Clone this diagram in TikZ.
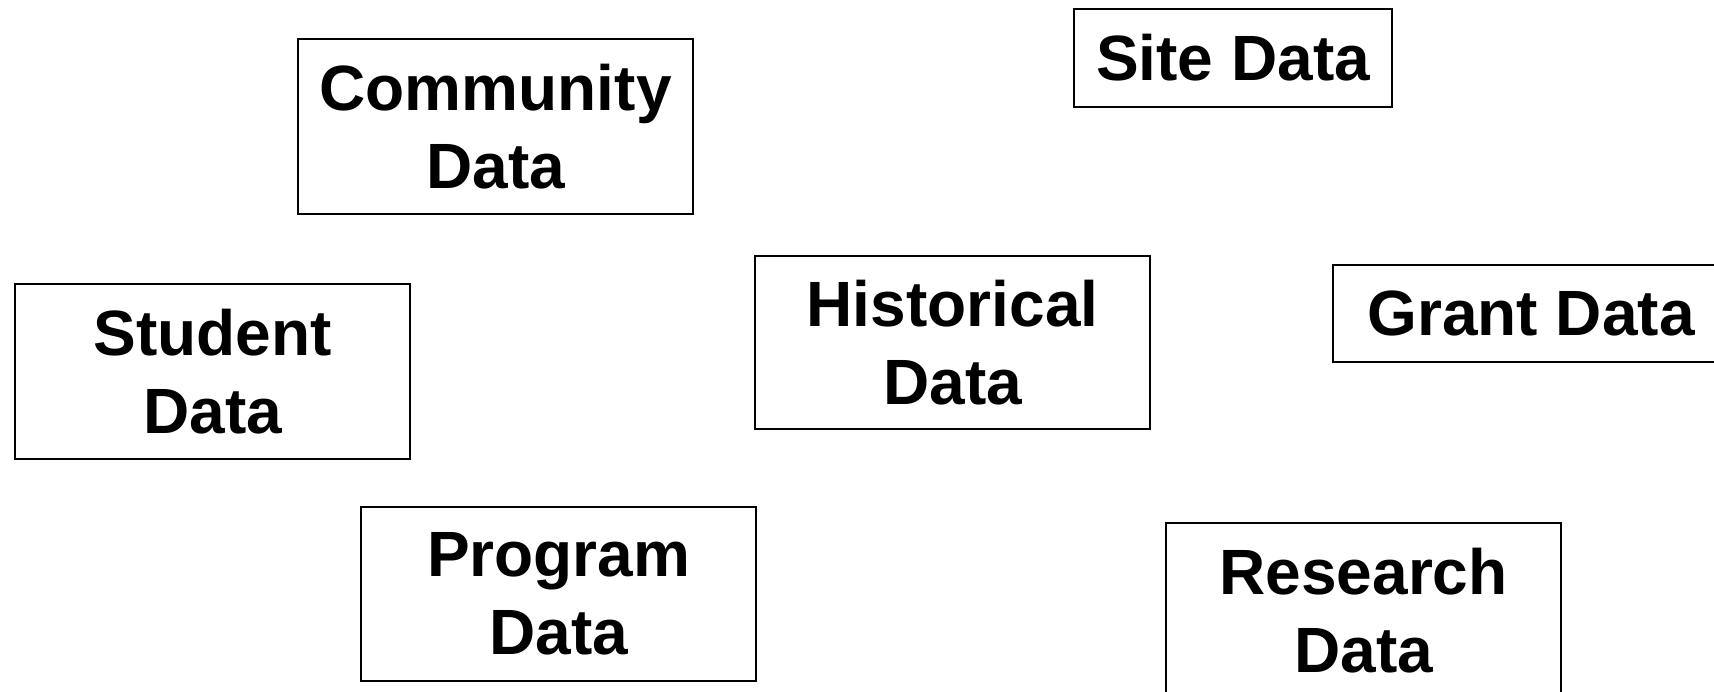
\documentclass[tikz,border=0pt]{standalone}
\usepackage{fontspec}
\setmainfont{Liberation Sans}
\usepackage{tikz}

\begin{document}
\begin{tikzpicture}[x=1pt,y=-1pt,databox/.style={draw,line width=2.2pt,anchor=north west,
        inner sep=0pt,align=center,minimum width=395pt,
        font=\bfseries\fontsize{64}{78}\selectfont}]
      \useasboundingbox (0,0) rectangle (1714,691);
      \clip (0,0) rectangle (1714,691);

      \node[databox,minimum height=175pt] (community) at (297,38) {Community\\Data};
      \node[databox,minimum width=318pt,minimum height=98pt] (site) at (1073,8) {Site Data};

      \node[databox,minimum height=175pt] (student) at (14,283) {Student\\Data};
      \node[databox,minimum height=173pt] (historical) at (754,255) {Historical\\Data};
      \node[databox,minimum width=396pt,minimum height=97pt] (grant) at (1332,264) {Grant Data};

      \node[databox,minimum height=174pt] (program) at (360,506) {Program\\Data};
      \node[databox,minimum height=175pt] (research) at (1165,522) {Research\\Data};
    \end{tikzpicture}
\end{document}
